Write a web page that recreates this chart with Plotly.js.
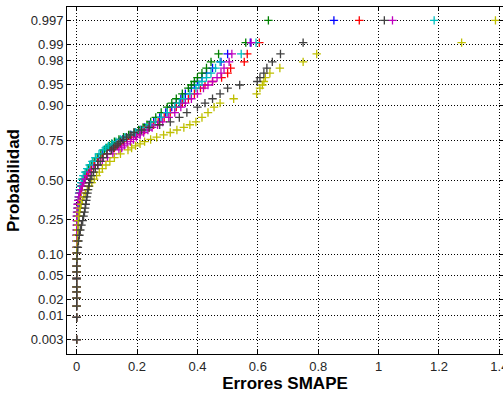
<!DOCTYPE html>
<html>
<head>
<meta charset="utf-8">
<script src="https://cdn.plot.ly/plotly-3.0.1.min.js"></script>
<style>html,body{margin:0;padding:0;background:#fff;}#chart{width:503px;height:396px;}</style>
</head>
<body>
<div id="chart"></div>
<script>
// Normal probability plot of SMAPE errors (7 series, n = 167 each, subset of ranks shown)
const nObs = 167;
const ranks = [1,2,3,4,5,6,8,10,12,15,18,21,25,29,33,37,41,45,49,53,57,61,65,69,73,77,81,85,89,93,97,101,105,109,113,117,119,121,123,125,127,129,131,133,135,137,139,141,144,147,150,152,154,156,158,159,160,161,162,163,164,165,166,167];

const seriesBlue = [0,0,0,0,0,0,0,0,0,
 0,0.001,0.001,0.002,0.003,0.004,0.005,0.006,0.007,0.008,0.009,0.01,0.011,0.012,0.014,0.016,0.018,0.021,0.025,0.03,0.035,0.042,0.05,0.06,0.072,0.085,
 0.1,0.11,0.12,0.13,0.14,0.152,0.165,0.18,0.195,0.21,0.225,0.24,0.255,
 0.275,0.295,0.315,0.33,0.345,0.36,0.38,0.39,0.40,0.415,0.43,0.45,0.478,0.50,0.575,0.852];
const seriesGreen = [0,0,0,0,0,0,0,0,0,
 0,0,0.001,0.001,0.001,0.002,0.002,0.003,0.003,0.004,0.005,0.006,0.007,0.008,0.01,0.012,0.015,0.018,0.022,0.027,0.032,0.04,0.048,0.058,0.068,0.08,
 0.092,0.1,0.108,0.116,0.125,0.14,0.155,0.172,0.19,0.205,0.22,0.233,0.245,
 0.262,0.28,0.30,0.315,0.33,0.35,0.37,0.38,0.39,0.40,0.415,0.43,0.445,0.47,0.56,0.635];
const seriesRed = [0,0,0,0,0,0,0,0,0,
 0,0,0,0.001,0.001,0.002,0.002,0.003,0.004,0.005,0.006,0.007,0.009,0.011,0.013,0.016,0.019,0.023,0.028,0.033,0.04,0.048,0.058,0.07,0.085,0.1,
 0.115,0.125,0.135,0.145,0.155,0.167,0.18,0.195,0.21,0.225,0.24,0.255,0.27,
 0.29,0.31,0.33,0.35,0.37,0.39,0.41,0.425,0.45,0.48,0.50,0.51,0.555,0.565,0.605,0.936];
const seriesCyan = [0,0,0,0,0,0,0,0,0,
 0,0,0,0,0.001,0.001,0.002,0.002,0.003,0.003,0.004,0.005,0.006,0.007,0.008,0.01,0.012,0.015,0.018,0.022,0.028,0.035,0.043,0.052,0.062,0.074,
 0.088,0.096,0.105,0.117,0.13,0.145,0.16,0.178,0.195,0.212,0.23,0.245,0.26,
 0.28,0.30,0.325,0.34,0.355,0.375,0.395,0.405,0.415,0.43,0.445,0.46,0.475,0.545,0.594,1.184];
const seriesMagenta = [0,0,0,0,0,0,0,0,0,
 0,0,0,0,0,0,0,0,0,0.001,0.002,0.003,0.005,0.007,0.01,0.014,0.018,0.023,0.029,0.036,0.045,0.056,0.07,0.085,0.102,0.12,
 0.14,0.149,0.158,0.168,0.178,0.188,0.198,0.21,0.222,0.236,0.25,0.268,0.285,
 0.305,0.325,0.345,0.36,0.38,0.40,0.42,0.435,0.45,0.465,0.478,0.488,0.505,0.514,0.578,1.046];
const seriesYellow = [0,0,0,0,0,0,0,0,0,
 0,0,0.001,0.002,0.003,0.004,0.005,0.006,0.008,0.01,0.012,0.015,0.019,0.024,0.029,0.035,0.042,0.05,0.058,0.066,0.075,0.085,0.097,0.11,0.125,0.145,
 0.17,0.182,0.195,0.21,0.225,0.245,0.265,0.288,0.31,0.332,0.355,0.375,0.395,
 0.415,0.435,0.455,0.475,0.52,0.596,0.607,0.615,0.62,0.625,0.64,0.673,0.75,0.795,1.275,1.387];
const seriesGray = [0,0,0,0,0,0,0,0,0,
 0.001,0.002,0.004,0.006,0.009,0.012,0.016,0.02,0.023,0.026,0.028,0.03,0.032,0.034,0.036,0.038,0.04,0.042,0.045,0.05,0.056,0.062,0.07,0.078,0.088,0.1,
 0.115,0.122,0.13,0.137,0.145,0.155,0.165,0.177,0.19,0.215,0.24,0.275,0.31,
 0.34,0.365,0.40,0.425,0.45,0.475,0.50,0.54,0.598,0.607,0.62,0.63,0.648,0.675,0.75,1.019];

const seriesList = [seriesBlue, seriesGreen, seriesRed, seriesCyan, seriesMagenta, seriesYellow, seriesGray];
const seriesColors = ['rgb(0,0,255)','rgb(0,128,0)','rgb(255,0,0)','rgb(0,191,191)','rgb(191,0,191)','rgb(191,191,0)','rgb(64,64,64)'];

const probTicks = [0.003,0.01,0.02,0.05,0.10,0.25,0.50,0.75,0.90,0.95,0.98,0.99,0.997];
const probTickText = ['0.003','0.01','0.02','0.05','0.10','0.25','0.50','0.75','0.90','0.95','0.98','0.99','0.997'];
const xTicks = [0,0.2,0.4,0.6,0.8,1,1.2,1.4];
const xTickText = ['0','0.2','0.4','0.6','0.8','1','1.2','1.4'];

// inverse standard normal CDF (probit scale of the probability axis)
function norminv(p){
  const a=[-3.969683028665376e+01,2.209460984245205e+02,-2.759285104469687e+02,1.383577518672690e+02,-3.066479806614716e+01,2.506628277459239e+00];
  const b=[-5.447609879822406e+01,1.615858368580409e+02,-1.556989798598866e+02,6.680131188771972e+01,-1.328068155288572e+01];
  const c=[-7.784894002430293e-03,-3.223964580411365e-01,-2.400758277161838e+00,-2.549732539343734e+00,4.374664141464968e+00,2.938163982698783e+00];
  const d=[7.784695709041462e-03,3.224671290700398e-01,2.445134137142996e+00,3.754408661907416e+00];
  const pl=0.02425, ph=1-pl; let q,r;
  if(p<pl){q=Math.sqrt(-2*Math.log(p));return (((((c[0]*q+c[1])*q+c[2])*q+c[3])*q+c[4])*q+c[5])/((((d[0]*q+d[1])*q+d[2])*q+d[3])*q+1);}
  if(p<=ph){q=p-0.5;r=q*q;return (((((a[0]*r+a[1])*r+a[2])*r+a[3])*r+a[4])*r+a[5])*q/(((((b[0]*r+b[1])*r+b[2])*r+b[3])*r+b[4])*r+1);}
  q=Math.sqrt(-2*Math.log(1-p));return -(((((c[0]*q+c[1])*q+c[2])*q+c[3])*q+c[4])*q+c[5])/((((d[0]*q+d[1])*q+d[2])*q+d[3])*q+1);
}

const yPos = ranks.map(r => norminv((r - 0.5) / nObs));

const traces = seriesList.map((xs, i) => ({
  type: 'scatter', mode: 'markers', x: xs, y: yPos, showlegend: false, hoverinfo: 'skip',
  cliponaxis: false,
  marker: {symbol: 'cross-thin', size: 6, color: seriesColors[i], line: {color: seriesColors[i], width: 1.3}}
}));

const tickFont = {family: 'Liberation Sans, Arial, sans-serif', size: 13, color: '#262626'};
const titleFont = {family: 'Liberation Sans, Arial, sans-serif', size: 17, color: '#000', weight: 'bold'};
const axisCommon = {
  showline: true, linecolor: '#000', linewidth: 1, mirror: 'ticks',
  ticks: 'inside', ticklen: 4, tickcolor: '#000', tickwidth: 1,
  showgrid: true, gridcolor: '#000', gridwidth: 1, griddash: '1px,2px',
  zeroline: false, tickfont: tickFont, automargin: false, ticklabeloverflow: 'allow'
};

const layout = {
  width: 503, height: 396,
  margin: {l: 67, r: 0, t: 7, b: 42},
  paper_bgcolor: '#fff', plot_bgcolor: '#fff',
  xaxis: Object.assign({}, axisCommon, {
    range: [-0.032, 1.412], tickmode: 'array', tickvals: xTicks, ticktext: xTickText,
    title: {text: 'Errores SMAPE', font: titleFont, standoff: 2}
  }),
  yaxis: Object.assign({}, axisCommon, {
    range: [-2.996, 2.979], tickmode: 'array',
    tickvals: probTicks.map(norminv), ticktext: probTickText,
    title: {text: 'Probabilidad', font: titleFont, standoff: 6}
  })
};

Plotly.newPlot('chart', traces, layout, {staticPlot: true, displayModeBar: false});
</script>
</body>
</html>
